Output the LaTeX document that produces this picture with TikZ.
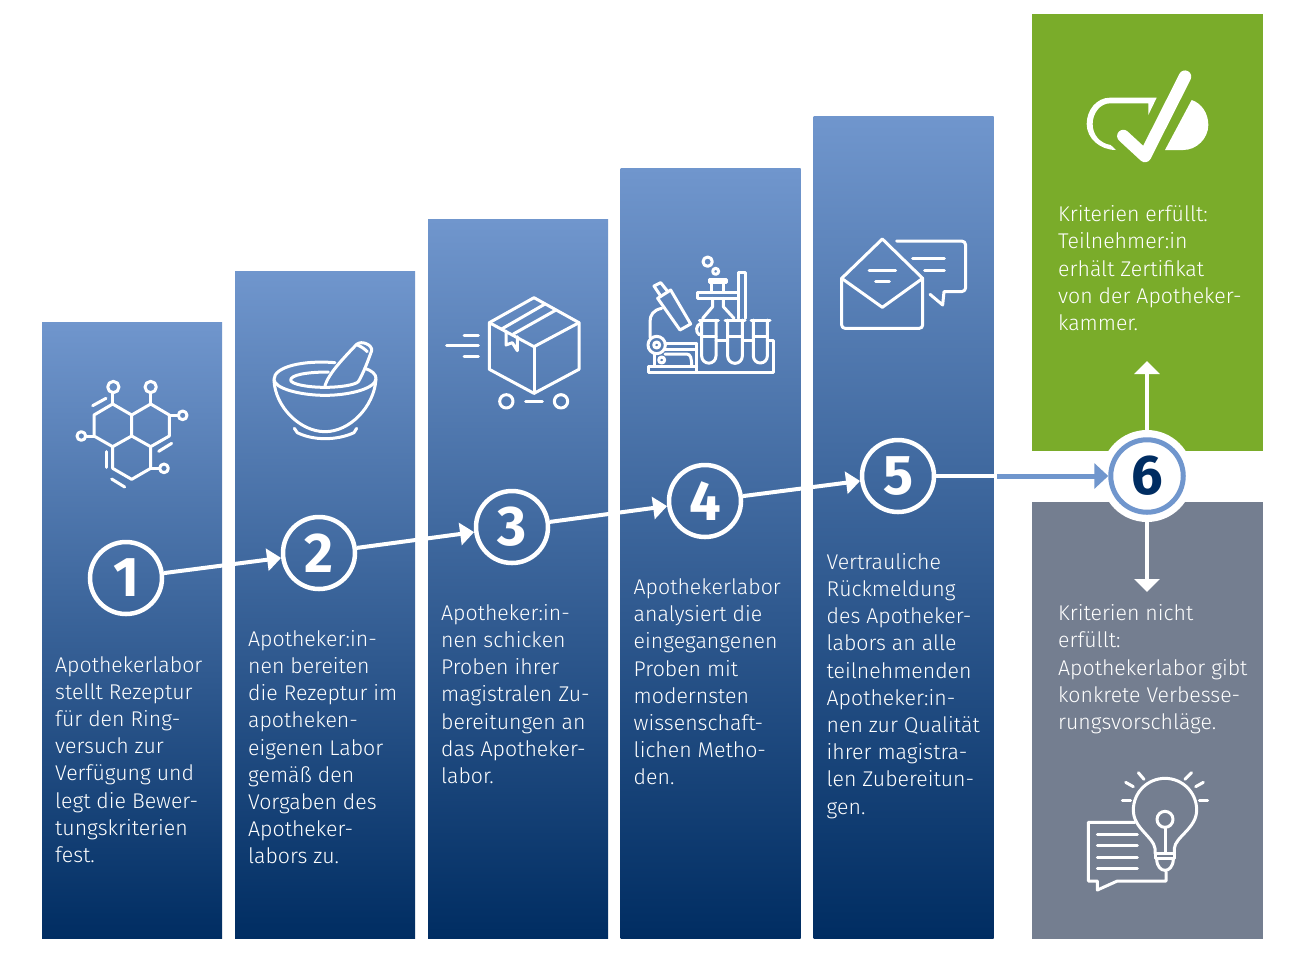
\documentclass[tikz,border=0pt]{standalone}
\usepackage{fontspec}
\setmainfont{Fira Sans Light}
\newfontfamily\numfont{Fira Sans Bold}
\usetikzlibrary{arrows.meta}
\definecolor{bluetop}{HTML}{7096CD}
\definecolor{bluebot}{HTML}{002D62}
\definecolor{okgreen}{HTML}{7AAC2A}
\definecolor{nogray}{HTML}{747E90}
\tikzset{
  colbox/.style={rectangle,inner sep=0pt,outer sep=0pt,anchor=north west,minimum width=180pt,top color=bluetop,bottom color=bluebot,draw=none},
  sidebox/.style={rectangle,inner sep=0pt,outer sep=0pt,anchor=north west,minimum width=231pt,minimum height=436.5pt},
  stepnum/.style={circle,draw=white,line width=4.5pt,minimum size=72pt,inner sep=0pt,text=white,font=\numfont\fontsize{56}{56}\selectfont},
  bodytext/.style={anchor=north west,inner sep=0pt,text=white,align=left,font=\fontsize{21.3}{27.2}\selectfont},
  flow/.style={white,line width=4pt,-{Triangle[length=14pt,width=22pt]}},
  icon/.style={white,line width=3pt,line cap=round,line join=round},
  zoomed/.style={x=0.33333pt,y=-0.33333pt}
}
\begin{document}
\begin{tikzpicture}[x=1pt,y=-1pt]
\useasboundingbox (0,0) rectangle (1306,954);
\fill[white] (0,0) rectangle (1306,954);
% columns
\node[colbox,minimum height=616.5pt] (c1) at (42,322) {};
\node[colbox,minimum height=667.5pt] (c2) at (235,271) {};
\node[colbox,minimum height=719.5pt] (c3) at (428,219) {};
\node[colbox,minimum height=770.5pt] (c4) at (620.5,168) {};
\node[colbox,minimum height=822.5pt] (c5) at (813.5,116) {};
\node[sidebox,fill=okgreen] (g) at (1032,14) {};
\node[sidebox,fill=nogray] (h) at (1032,502) {};
% texts
\node[bodytext] (t1) at (55,656) {Apothekerlabor\\stellt Rezeptur\\für den Ring-\\versuch zur\\Verfügung und\\legt die Bewer-\\tungskriterien\\fest.};
\node[bodytext] (t2) at (248,630) {Apotheker:in-\\nen bereiten\\die Rezeptur im\\apotheken-\\eigenen Labor\\gemäß den\\Vorgaben des\\Apotheker-\\labors zu.};
\node[bodytext] (t3) at (441,604) {Apotheker:in-\\nen schicken\\Proben ihrer\\magistralen Zu-\\bereitungen an\\das Apotheker-\\labor.};
\node[bodytext] (t4) at (633.5,578.5) {Apothekerlabor\\analysiert die\\eingegangenen\\Proben mit\\modernsten\\wissenschaft-\\lichen Metho-\\den.};
\node[bodytext] (t5) at (826.5,553) {Vertrauliche\\Rückmeldung\\des Apotheker-\\labors an alle\\teilnehmenden\\Apotheker:in-\\nen zur Qualität\\ihrer magistra-\\len Zubereitun-\\gen.};
\node[bodytext] (t6) at (1058,205.5) {Kriterien erfüllt:\\Teilnehmer:in\\erhält Zertifikat\\von der Apotheker-\\kammer.};
\node[bodytext] (t7) at (1058,604.5) {Kriterien nicht\\erfüllt:\\Apothekerlabor gibt\\konkrete Verbesse-\\rungsvorschläge.};
% step circles
\node[stepnum] (n1) at (126,578) {1};
\node[stepnum] (n2) at (319,553) {2};
\node[stepnum] (n3) at (512,527) {3};
\node[stepnum] (n4) at (705,501) {4};
\node[stepnum] (n5) at (898,476) {5};
% outcome arrows behind halo
\node[circle,fill=white,minimum size=92pt,inner sep=0pt] (halo) at (1147,476) {};
\node[circle,draw=bluetop,fill=white,line width=5pt,minimum size=72.5pt,inner sep=0pt,text=bluebot,font=\numfont\fontsize{56}{56}\selectfont] (n6) at (1147,476) {6};
\coordinate (edge) at (995,476);
\coordinate (edge2) at (997,476);
\coordinate (upend) at (1147,361);
\coordinate (downend) at (1147,592);
\draw[flow] (n1) -- (n2);
\draw[flow] (n2) -- (n3);
\draw[flow] (n3) -- (n4);
\draw[flow] (n4) -- (n5);
\draw[white,line width=4pt] (n5) -- (edge);
\draw[bluetop,line width=5pt,-{Triangle[length=14pt,width=25pt]}] (edge2) -- (n6);
\draw[white,line width=4pt,-{Triangle[length=13pt,width=25pt]}] (halo.north) -- (upend);
\draw[white,line width=4pt,-{Triangle[length=13pt,width=25pt]}] (halo.south) -- (downend);
% molecule
\begin{scope}[shift={(50,250)},zoomed,icon]
\draw (188,462)--(245,495)--(245,558)--(188,590)--(132,558)--(132,495)--cycle;
\draw (245,495)--(302,462)--(358,495)--(358,558)--(302,590)--(245,558);
\draw (188,590)--(188,655)--(245,688)--(302,655)--(302,590);
\draw (190,411) circle (17); \draw (188,428)--(188,462);
\draw (302,411) circle (17); \draw (302,428)--(302,462);
\draw (398,496) circle (13); \draw (358,495)--(385,495);
\draw (94,558) circle (13); \draw (107,558)--(132,558);
\draw (342,655) circle (13); \draw (302,655)--(329,655);
\draw (128,467)--(168,445);
\draw (326,604)--(365,580);
\draw (168,605)--(168,652);
\draw (185,687)--(224,711);
\end{scope}
% mortar
\begin{scope}[shift={(50,250)},zoomed,icon]
\draw (855,338) .. controls (760,330) and (672,350) .. (672,388) .. controls (672,415) and (750,436) .. (825,436) .. controls (900,436) and (978,415) .. (978,385) .. controls (978,372) and (965,362) .. (945,355);
\draw (835,366) .. controls (770,366) and (722,375) .. (722,390) .. controls (722,402) and (770,412) .. (825,412) .. controls (870,412) and (915,405) .. (925,395);
\draw (672,390) .. controls (675,470) and (750,545) .. (825,545) .. controls (900,545) and (972,470) .. (978,388);
\draw (733,535) -- (742,548) .. controls (790,572) and (860,572) .. (912,548) -- (920,535);
\draw (825,408) .. controls (835,370) and (885,320) .. (920,283) .. controls (935,270) and (968,285) .. (965,302) .. controls (955,330) and (940,370) .. (925,395);
\draw (922,285) .. controls (935,290) and (945,298) .. (952,305);
\end{scope}
% parcel
\begin{scope}[shift={(430,230)},zoomed,icon]
\draw (312,203)--(447,278)--(447,418)--(312,490)--(178,418)--(178,278)--cycle;
\draw (178,278)--(312,350)--(447,278);
\draw (312,350)--(312,490);
\draw (345,222)--(215,297);
\draw (378,240)--(250,312);
\draw (228,303)--(228,345)--(247,338)--(262,362)--(262,320);
\draw (102,315)--(145,315);
\draw (50,347)--(145,347);
\draw (102,378)--(145,378);
\draw (229,514) circle (20);
\draw (393,514) circle (20);
\draw (287,514)--(337,514);
\end{scope}
% lab
\begin{scope}[shift={(430,230)},zoomed,icon]
\draw (833,95) circle (14);
\draw (857,124) circle (9);
\draw (925,265)--(925,128)--(945,128)--(945,265);
\draw (838,147) rectangle (888,158);
\draw (845,160)--(845,187); \draw (880,160)--(880,187);
\draw (803,187) rectangle (925,205);
\draw (848,205)--(848,230)--(818,265);
\draw (880,205)--(880,230)--(912,265);
\draw (808,270)--(865,270);
\draw (815,270)--(815,378) arc[start angle=180,end angle=0,radius=21.5]--(858,270);
\draw (885,270)--(945,270);
\draw (893,270)--(893,378) arc[start angle=180,end angle=0,radius=22]--(937,270);
\draw (963,270)--(1020,270);
\draw (970,270)--(970,378) arc[start angle=180,end angle=0,radius=21]--(1012,270);
\draw (815,320)--(858,320); \draw (893,320)--(937,320); \draw (970,320)--(1012,320);
\draw (858,330)--(893,330); \draw (937,330)--(970,330); \draw (1012,330)--(1030,330)--(1030,427)--(655,427)--(655,410)--(800,410);
\draw (800,340)--(800,427);
\draw (683,205)--(722,180)--(782,282)--(750,300)--cycle;
\draw (690,195)--(672,168)--(692,158)--(712,183);
\draw (695,235) .. controls (670,240) and (660,255) .. (660,275)--(660,322);
\draw (705,340)--(800,340); \draw (705,358)--(800,358);
\draw (680,345) circle (26); \draw (680,345) circle (9);
\draw (672,372)--(672,408);
\draw (705,372)--(770,372) .. controls (782,372) and (785,385) .. (785,408);
\draw (695,390) circle (9);
\draw (812,280) .. controls (798,285) and (795,305) .. (808,315);
\end{scope}
% envelope
\begin{scope}[shift={(820,50)},zoomed,icon]
\draw (65,685)--(187,567)--(308,685)--(308,825) arc[start angle=0,end angle=90,radius=10]--(75,835) arc[start angle=90,end angle=180,radius=10]--cycle;
\draw (65,685)--(187,772)--(308,685);
\draw (147,662)--(227,662);
\draw (167,693)--(208,693);
\draw (230,573)--(425,573) arc[start angle=-90,end angle=0,radius=12]--(437,713) arc[start angle=0,end angle=90,radius=12]--(372,725)--(368,765)--(330,733);
\draw (278,625)--(373,625);
\draw (314,662)--(373,662);
\end{scope}
% tick and pill
\begin{scope}[shift={(820,50)},zoomed]
\draw[white,line width=12.5pt,line cap=round,line join=round] (910,258)--(975,318)--(1095,80);
\fill[white] (1115,150) .. controls (1145,160) and (1165,190) .. (1165,225) .. controls (1165,265) and (1130,300) .. (1090,300)--(1035,300)--cycle;
\fill[white] (1010,143)--(870,143) .. controls (830,143) and (800,180) .. (800,222) .. controls (800,265) and (840,300) .. (888,300)--(872,285) .. controls (840,280) and (818,255) .. (818,222) .. controls (818,190) and (840,160) .. (870,160)--(985,160)--(985,195)--cycle;
\end{scope}
% bulb
\begin{scope}[shift={(1060,750)},zoomed,icon]
\draw (285,310)--(285,295) .. controls (280,260) and (220,235) .. (220,180) arc[start angle=180,end angle=360,radius=95] .. controls (410,235) and (346,260) .. (343,295)--(343,310);
\draw (285,310) rectangle (343,326);
\draw (290,328) .. controls (292,372) and (338,372) .. (340,328);
\draw (315,208) circle (24);
\draw (315,232)--(315,310);
\draw (187,150)--(212,150);
\draw (197,97)--(220,110);
\draw (235,68)--(252,88);
\draw (395,68)--(375,88);
\draw (430,97)--(407,110);
\draw (418,150)--(443,150);
\draw (225,217)--(85,217)--(85,393)--(112,393)--(112,420)--(172,393)--(318,393)--(318,365);
\draw (112,253)--(232,253);
\draw (112,287)--(232,287);
\draw (112,321)--(232,321);
\draw (112,355)--(232,355);
\end{scope}
\end{tikzpicture}
\end{document}
